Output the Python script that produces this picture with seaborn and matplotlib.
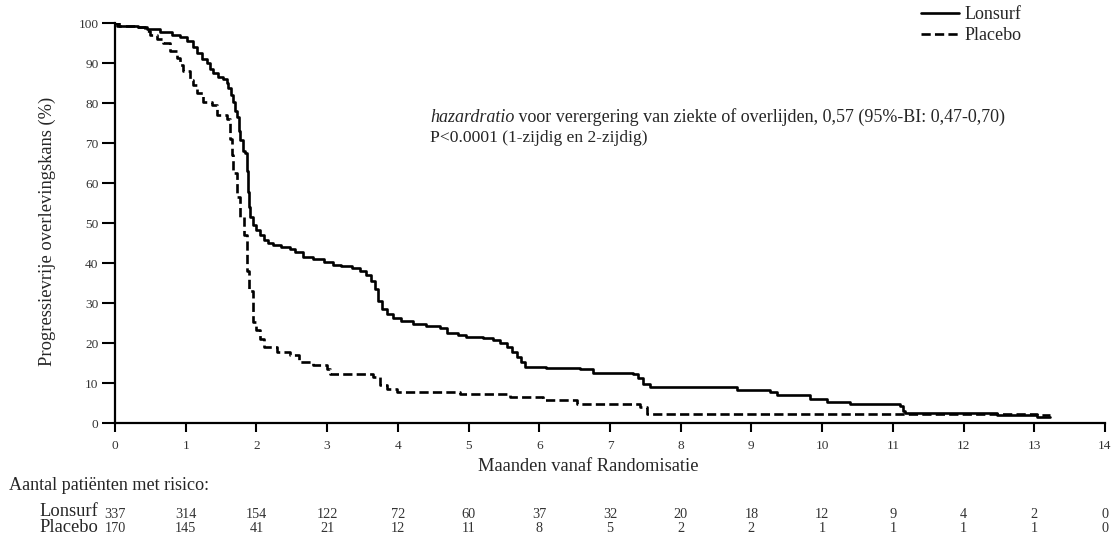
import numpy as np
import pandas as pd
import matplotlib
matplotlib.use("Agg")
import matplotlib.pyplot as plt
import seaborn as sns
from matplotlib.lines import Line2D

# ---- data ----
lonsurf_t = [0, 0.03, 0.33, 0.45, 0.64, 0.8, 0.92, 1.02, 1.1, 1.16, 1.23, 1.3, 1.35, 1.39,
             1.45, 1.53, 1.58, 1.6, 1.64, 1.67, 1.7, 1.72, 1.75, 1.77, 1.81, 1.84, 1.86,
             1.88, 1.9, 1.91, 1.95, 2.0, 2.05, 2.1, 2.17, 2.24, 2.35, 2.47, 2.55, 2.66,
             2.8, 2.95, 3.08, 3.2, 3.35, 3.47, 3.55, 3.62, 3.67, 3.72, 3.77, 3.85, 3.93,
             4.05, 4.21, 4.4, 4.6, 4.69, 4.85, 4.97, 5.2, 5.35, 5.45, 5.54, 5.62, 5.68,
             5.74, 5.8, 6.1, 6.57, 6.76, 7.33, 7.4, 7.47, 7.56, 8.8, 9.26, 9.36, 9.83,
             10.07, 10.4, 11.1, 11.15, 11.17, 12.47, 13.04, 13.22]
lonsurf_s = [100, 99.3, 99, 98.5, 97.8, 97, 96.4, 95.5, 94, 92.5, 91, 90, 88.5, 87.5,
             86.5, 86, 85, 83.7, 82, 80.3, 78, 76.6, 73, 70.8, 68, 67.5, 63,
             57.8, 54, 51.5, 49.5, 48.3, 47, 45.8, 45, 44.5, 44, 43.5, 42.8, 41.6,
             41, 40.3, 39.6, 39.2, 38.8, 38, 37, 35.5, 33.5, 30.5, 28.5, 27.3, 26.2,
             25.5, 24.8, 24.3, 23.7, 22.6, 22, 21.5, 21.2, 20.8, 20, 19, 17.8, 16.5,
             15.3, 14, 13.7, 13.4, 12.6, 12.2, 11.2, 9.8, 9, 8.3, 7.8, 7, 6,
             5.3, 4.7, 4.2, 3, 2.5, 2.1, 1.5, 1.5]

placebo_t = [0, 0.05, 0.33, 0.42, 0.5, 0.6, 0.68, 0.78, 0.87, 0.92, 0.96, 1.06, 1.1, 1.16,
             1.25, 1.37, 1.44, 1.58, 1.63, 1.65, 1.67, 1.72, 1.77, 1.82, 1.86, 1.87, 1.9,
             1.95, 2.0, 2.05, 2.1, 2.29, 2.47, 2.6, 2.8, 3.0, 3.04, 3.65, 3.75, 3.85,
             3.99, 4.88, 5.58, 6.05, 6.53, 7.42, 7.52, 13.04, 13.22]
placebo_s = [100, 99.3, 99, 98, 97, 96, 95, 93, 91.2, 89.5, 88, 85.8, 84.5, 82.5,
             80.3, 79.5, 77, 76, 71, 67, 62.5, 56.6, 51.5, 47, 43.3, 38, 33,
             25.3, 23.3, 21, 19, 17.8, 17, 15.3, 14.5, 13.5, 12.3, 11.5, 9.5, 8.5,
             7.8, 7.3, 6.5, 5.7, 4.7, 4.0, 2.2, 2.0, 2.0]

risk_times = list(range(0, 15))
risk_lonsurf = [337, 314, 154, 122, 72, 60, 37, 32, 20, 18, 12, 9, 4, 2, 0]
risk_placebo = [170, 145, 41, 21, 12, 11, 8, 5, 2, 2, 1, 1, 1, 1, 0]

x_ticks = list(range(0, 15))
y_ticks = list(range(0, 101, 10))

df = pd.concat([
    pd.DataFrame({"t": lonsurf_t, "s": lonsurf_s, "arm": "Lonsurf"}),
    pd.DataFrame({"t": placebo_t, "s": placebo_s, "arm": "Placebo"}),
], ignore_index=True)

# ---- styling ----
sns.set_theme(style="white")
plt.rcParams["font.family"] = ["Liberation Serif", "DejaVu Serif"]

W, H = 1117, 538
fig = plt.figure(figsize=(W / 100, H / 100), dpi=100)
ax = fig.add_axes([115 / W, 1 - 423 / H, (1105 - 115) / W, 400 / H])

DASH = (3.5, 1.6)
sns.lineplot(data=df, x="t", y="s", style="arm", color="black",
             dashes={"Lonsurf": "", "Placebo": DASH},
             drawstyle="steps-post", estimator=None, sort=False,
             linewidth=1.9, ax=ax, legend=False)

ax.set_xlim(0, 14)
ax.set_ylim(0, 100)
ax.set_xticks(x_ticks)
ax.set_yticks(y_ticks)
ax.set_xticklabels([str(v) for v in x_ticks], fontsize=9.6, color="#333333")
ax.set_yticklabels([str(v) for v in y_ticks], fontsize=9.6, color="#333333")
ax.tick_params(axis="x", bottom=True, direction="out", length=6.5, width=1.5, pad=6,
               color="black")
ax.tick_params(axis="y", left=True, direction="out", length=9.4, width=1.5, pad=2.5,
               color="black")
for sp in ["top", "right"]:
    ax.spines[sp].set_visible(False)
for sp in ["left", "bottom"]:
    ax.spines[sp].set_linewidth(1.6)
    ax.spines[sp].set_color("black")

ax.set_xlabel("Maanden vanaf Randomisatie", fontsize=13.3)
ax.xaxis.set_label_coords((588 - 115) / 990, (423 - 458) / 400)
ax.set_ylabel("Progressievrije overlevingskans (%)", fontsize=13.3)
ax.yaxis.set_label_coords((56 - 115) / 990, (423 - 231) / 400)

# legend (top right, outside the axes area)
handles = [Line2D([], [], color="black", lw=1.9, ls="-"),
           Line2D([], [], color="black", lw=1.9, ls=(0, DASH))]
fig.legend(handles, ["Lonsurf", "Placebo"], loc="upper left",
           bbox_to_anchor=(921 / W, 1 - 6 / H), frameon=False,
           fontsize=13, handlelength=2.1, handletextpad=0.3, labelspacing=0.22,
           borderpad=0, borderaxespad=0)

# annotation
fs_ann = 13
t1 = fig.text(430 / W, 1 - 117 / H, "hazardratio", fontsize=fs_ann, style="italic",
              va="center", ha="left")
fig.canvas.draw()
bb = t1.get_window_extent()
fig.text(bb.x1 / W, 1 - 117 / H,
         " voor verergering van ziekte of overlijden, 0,57 (95%-BI: 0,47-0,70)",
         fontsize=fs_ann, va="center", ha="left")
fig.text(430 / W, 1 - 138 / H, "P<0.0001 (1-zijdig en 2-zijdig)", fontsize=12.6,
         va="center", ha="left")

# risk table
fig.text(9 / W, 1 - 485 / H, "Aantal patiënten met risico:", fontsize=13.1,
         va="center", ha="left")
fig.text(98 / W, 1 - 512 / H, "Lonsurf", fontsize=13.3, va="center", ha="right")
fig.text(98 / W, 1 - 527 / H, "Placebo", fontsize=13.3, va="center", ha="right")
trans = ax.get_xaxis_transform()
y_l = (423 - 515) / 400
y_p = (423 - 529) / 400
for t, a, b in zip(risk_times, risk_lonsurf, risk_placebo):
    ax.text(t, y_l, str(a), transform=trans, fontsize=10.3, ha="center", va="center",
            color="#333333", clip_on=False)
    ax.text(t, y_p, str(b), transform=trans, fontsize=10.3, ha="center", va="center",
            color="#333333", clip_on=False)

fig.savefig("out.png", dpi=100, facecolor="white")
